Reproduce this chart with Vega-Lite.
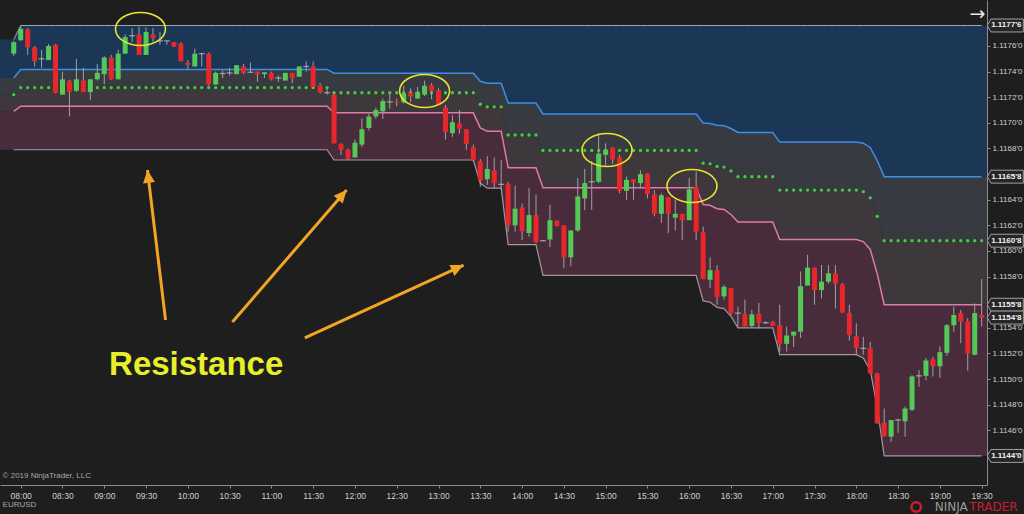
{
"$schema": "https://vega.github.io/schema/vega-lite/v6.json",
"width": 987, "height": 485,
"autosize": "none",
"padding": {"left": 0, "top": 0, "right": 37, "bottom": 29},
"background": "#1e1e1e",
"config": {"view": {"stroke": null}, "font": "Liberation Sans"},
"resolve": {"axis": {"x": "independent", "y": "independent"}},
"datasets": {
"lv": [
{"g":0,"u":1.11765,"b":1.11735,"m":1.11722,"p":1.11709,"lo":1.11679},
{"g":1,"u":1.11776,"b":1.117417,"m":1.117275,"p":1.11713,"lo":1.11679},
{"g":2,"u":1.11776,"b":1.117388,"m":1.117235,"p":1.117078,"lo":1.11671},
{"g":3,"u":1.11776,"b":1.117325,"m":1.117145,"p":1.116961,"lo":1.11653},
{"g":4,"u":1.11776,"b":1.11731,"m":1.117125,"p":1.116935,"lo":1.11649},
{"g":5,"u":1.11776,"b":1.117155,"m":1.116905,"p":1.116649,"lo":1.11605},
{"g":6,"u":1.11776,"b":1.11707,"m":1.116785,"p":1.116493,"lo":1.11581},
{"g":7,"u":1.11776,"b":1.116999,"m":1.116685,"p":1.116363,"lo":1.11561},
{"g":8,"u":1.11776,"b":1.116995,"m":1.11668,"p":1.116356,"lo":1.1156},
{"g":9,"u":1.11776,"b":1.116981,"m":1.11666,"p":1.11633,"lo":1.11556},
{"g":10,"u":1.11776,"b":1.116978,"m":1.116655,"p":1.116324,"lo":1.11555},
{"g":11,"u":1.11776,"b":1.116956,"m":1.116625,"p":1.116285,"lo":1.11549},
{"g":12,"u":1.11776,"b":1.116925,"m":1.11658,"p":1.116226,"lo":1.1154},
{"g":13,"u":1.11776,"b":1.11685,"m":1.116475,"p":1.11609,"lo":1.11519},
{"g":14,"u":1.11776,"b":1.116841,"m":1.116463,"p":1.116073,"lo":1.115165},
{"g":15,"u":1.11776,"b":1.116808,"m":1.116415,"p":1.116012,"lo":1.11507},
{"g":16,"u":1.11776,"b":1.116705,"m":1.11627,"p":1.115823,"lo":1.11478},
{"g":17,"u":1.11776,"b":1.11658,"m":1.11608,"p":1.11558,"lo":1.1144}
],
"bars": [
{"t":"07:45","g":0},
{"t":"07:50","g":0},
{"t":"07:55","g":0,"o":1.11754,"h":1.11764,"l":1.11752,"c":1.11763},
{"t":"08:00","g":1,"o":1.117645,"h":1.11776,"l":1.11764,"c":1.117735},
{"t":"08:05","g":1,"o":1.11773,"h":1.11774,"l":1.11753,"c":1.11759},
{"t":"08:10","g":1,"o":1.11759,"h":1.1176,"l":1.11744,"c":1.11748},
{"t":"08:15","g":1,"o":1.1175,"h":1.11757,"l":1.11743,"c":1.1175},
{"t":"08:20","g":1,"o":1.11749,"h":1.117615,"l":1.11749,"c":1.1176},
{"t":"08:25","g":1,"o":1.11761,"h":1.117615,"l":1.11723,"c":1.117235},
{"t":"08:30","g":1,"o":1.11722,"h":1.1174,"l":1.11722,"c":1.11734},
{"t":"08:35","g":1,"o":1.11733,"h":1.117335,"l":1.11705,"c":1.11724},
{"t":"08:40","g":1,"o":1.11725,"h":1.1175,"l":1.11724,"c":1.11734},
{"t":"08:45","g":1,"o":1.11733,"h":1.11743,"l":1.11724,"c":1.11724},
{"t":"08:50","g":1,"o":1.11724,"h":1.11734,"l":1.11718,"c":1.11734},
{"t":"08:55","g":1,"o":1.11734,"h":1.11746,"l":1.11733,"c":1.11739},
{"t":"09:00","g":1,"o":1.11738,"h":1.11752,"l":1.1173,"c":1.11751},
{"t":"09:05","g":1,"o":1.11751,"h":1.11753,"l":1.117335,"c":1.11734},
{"t":"09:10","g":1,"o":1.11734,"h":1.11757,"l":1.11734,"c":1.11754},
{"t":"09:15","g":1,"o":1.11754,"h":1.11769,"l":1.11754,"c":1.11767},
{"t":"09:20","g":1,"o":1.11768,"h":1.11774,"l":1.11763,"c":1.11768},
{"t":"09:25","g":1,"o":1.11769,"h":1.11775,"l":1.11753,"c":1.11753},
{"t":"09:30","g":1,"o":1.11753,"h":1.117745,"l":1.11753,"c":1.11771},
{"t":"09:35","g":1,"o":1.11769,"h":1.11774,"l":1.11763,"c":1.11766},
{"t":"09:40","g":1,"o":1.11764,"h":1.11771,"l":1.11761,"c":1.11764},
{"t":"09:45","g":1,"o":1.11764,"h":1.11764,"l":1.11761,"c":1.11764},
{"t":"09:50","g":1,"o":1.11763,"h":1.11763,"l":1.11759,"c":1.117595},
{"t":"09:55","g":1,"o":1.11762,"h":1.11763,"l":1.11748,"c":1.11748},
{"t":"10:00","g":1,"o":1.11747,"h":1.11749,"l":1.11742,"c":1.11745},
{"t":"10:05","g":1,"o":1.11744,"h":1.11758,"l":1.11744,"c":1.11754},
{"t":"10:10","g":1,"o":1.11754,"h":1.117545,"l":1.11744,"c":1.11754},
{"t":"10:15","g":1,"o":1.11754,"h":1.11755,"l":1.11729,"c":1.1173},
{"t":"10:20","g":1,"o":1.1173,"h":1.1174,"l":1.117295,"c":1.11739},
{"t":"10:25","g":1,"o":1.117385,"h":1.11741,"l":1.11735,"c":1.117385},
{"t":"10:30","g":1,"o":1.11739,"h":1.11743,"l":1.11737,"c":1.11739},
{"t":"10:35","g":1,"o":1.11738,"h":1.11745,"l":1.11738,"c":1.11745},
{"t":"10:40","g":1,"o":1.11744,"h":1.11746,"l":1.11738,"c":1.11739},
{"t":"10:45","g":1,"o":1.117395,"h":1.11747,"l":1.11739,"c":1.117395},
{"t":"10:50","g":1,"o":1.1174,"h":1.1174,"l":1.11732,"c":1.11738},
{"t":"10:55","g":1,"o":1.11738,"h":1.117395,"l":1.11735,"c":1.117395},
{"t":"11:00","g":1,"o":1.11739,"h":1.1174,"l":1.11733,"c":1.11734},
{"t":"11:05","g":1,"o":1.11735,"h":1.11737,"l":1.11732,"c":1.11735},
{"t":"11:10","g":1,"o":1.11733,"h":1.11739,"l":1.11733,"c":1.11739},
{"t":"11:15","g":1,"o":1.11739,"h":1.11739,"l":1.11731,"c":1.11735},
{"t":"11:20","g":1,"o":1.11736,"h":1.11744,"l":1.11736,"c":1.11744},
{"t":"11:25","g":1,"o":1.11744,"h":1.11748,"l":1.1174,"c":1.11744},
{"t":"11:30","g":1,"o":1.11744,"h":1.11748,"l":1.11728,"c":1.11728},
{"t":"11:35","g":1,"o":1.11729,"h":1.11731,"l":1.11723,"c":1.11724},
{"t":"11:40","g":1,"o":1.117235,"h":1.11727,"l":1.11722,"c":1.117235},
{"t":"11:45","g":2,"o":1.11722,"h":1.11724,"l":1.11684,"c":1.11684},
{"t":"11:50","g":2,"o":1.116835,"h":1.11684,"l":1.11675,"c":1.11679},
{"t":"11:55","g":2,"o":1.11679,"h":1.1168,"l":1.11671,"c":1.11672},
{"t":"12:00","g":2,"o":1.11673,"h":1.11687,"l":1.11673,"c":1.116845},
{"t":"12:05","g":2,"o":1.11683,"h":1.117035,"l":1.11681,"c":1.11695},
{"t":"12:10","g":2,"o":1.11696,"h":1.11707,"l":1.11694,"c":1.11705},
{"t":"12:15","g":2,"o":1.11705,"h":1.11712,"l":1.11703,"c":1.1171},
{"t":"12:20","g":2,"o":1.11709,"h":1.11719,"l":1.11703,"c":1.11717},
{"t":"12:25","g":2,"o":1.117163,"h":1.11723,"l":1.11711,"c":1.117163},
{"t":"12:30","g":2,"o":1.117165,"h":1.11719,"l":1.11713,"c":1.117155},
{"t":"12:35","g":2,"o":1.11716,"h":1.11729,"l":1.11715,"c":1.11723},
{"t":"12:40","g":2,"o":1.117235,"h":1.11727,"l":1.11716,"c":1.117205},
{"t":"12:45","g":2,"o":1.11719,"h":1.11728,"l":1.117185,"c":1.11724},
{"t":"12:50","g":2,"o":1.11722,"h":1.11733,"l":1.11721,"c":1.11729},
{"t":"12:55","g":2,"o":1.117295,"h":1.11731,"l":1.117185,"c":1.11725},
{"t":"13:00","g":2,"o":1.117255,"h":1.11727,"l":1.11714,"c":1.11714},
{"t":"13:05","g":2,"o":1.11712,"h":1.11714,"l":1.11687,"c":1.11693},
{"t":"13:10","g":2,"o":1.11692,"h":1.11706,"l":1.11689,"c":1.117005},
{"t":"13:15","g":2,"o":1.116995,"h":1.1171,"l":1.116915,"c":1.116955},
{"t":"13:20","g":2,"o":1.11695,"h":1.11695,"l":1.11679,"c":1.116835},
{"t":"13:25","g":2,"o":1.11681,"h":1.11683,"l":1.1167,"c":1.11671},
{"t":"13:30","g":3,"o":1.1167,"h":1.11672,"l":1.1165,"c":1.11655},
{"t":"13:35","g":4,"o":1.11656,"h":1.11674,"l":1.116515,"c":1.11664},
{"t":"13:40","g":4,"o":1.11663,"h":1.11673,"l":1.11649,"c":1.11653},
{"t":"13:45","g":4,"o":1.11652,"h":1.11671,"l":1.11648,"c":1.11652},
{"t":"13:50","g":5,"o":1.11652,"h":1.11654,"l":1.11615,"c":1.1162},
{"t":"13:55","g":5,"o":1.1162,"h":1.11651,"l":1.11615,"c":1.11633},
{"t":"14:00","g":5,"o":1.11634,"h":1.11637,"l":1.116085,"c":1.116155},
{"t":"14:05","g":5,"o":1.11614,"h":1.11649,"l":1.11611,"c":1.11628},
{"t":"14:10","g":5,"o":1.11628,"h":1.11644,"l":1.11606,"c":1.11607},
{"t":"14:15","g":6,"o":1.11608,"h":1.116085,"l":1.116075,"c":1.11608},
{"t":"14:20","g":6,"o":1.11609,"h":1.11636,"l":1.11603,"c":1.11624},
{"t":"14:25","g":6,"o":1.116235,"h":1.11624,"l":1.11619,"c":1.116195},
{"t":"14:30","g":6,"o":1.1162,"h":1.1162,"l":1.115865,"c":1.11595},
{"t":"14:35","g":6,"o":1.11595,"h":1.11616,"l":1.11588,"c":1.11616},
{"t":"14:40","g":6,"o":1.11616,"h":1.11657,"l":1.11615,"c":1.116425},
{"t":"14:45","g":6,"o":1.11641,"h":1.11664,"l":1.11632,"c":1.11653},
{"t":"14:50","g":6,"o":1.11654,"h":1.1167,"l":1.11632,"c":1.11654},
{"t":"14:55","g":6,"o":1.11654,"h":1.11692,"l":1.11653,"c":1.11676},
{"t":"15:00","g":6,"o":1.11675,"h":1.11684,"l":1.11666,"c":1.11679},
{"t":"15:05","g":6,"o":1.116805,"h":1.11681,"l":1.11668,"c":1.116715},
{"t":"15:10","g":6,"o":1.11673,"h":1.11675,"l":1.11645,"c":1.11647},
{"t":"15:15","g":6,"o":1.11647,"h":1.11658,"l":1.1164,"c":1.116555},
{"t":"15:20","g":6,"o":1.11656,"h":1.11656,"l":1.1164,"c":1.116535},
{"t":"15:25","g":6,"o":1.11653,"h":1.11663,"l":1.1165,"c":1.1166},
{"t":"15:30","g":6,"o":1.116605,"h":1.116605,"l":1.11641,"c":1.116445},
{"t":"15:35","g":6,"o":1.11644,"h":1.116475,"l":1.11627,"c":1.11629},
{"t":"15:40","g":6,"o":1.11629,"h":1.11645,"l":1.11622,"c":1.116435},
{"t":"15:45","g":6,"o":1.11642,"h":1.11642,"l":1.11614,"c":1.11629},
{"t":"15:50","g":6,"o":1.11626,"h":1.1164,"l":1.11616,"c":1.11629},
{"t":"15:55","g":6,"o":1.11629,"h":1.11629,"l":1.116085,"c":1.11624},
{"t":"16:00","g":6,"o":1.11624,"h":1.11657,"l":1.11624,"c":1.11648},
{"t":"16:05","g":6,"o":1.1165,"h":1.11662,"l":1.116085,"c":1.11615},
{"t":"16:10","g":7,"o":1.116145,"h":1.11619,"l":1.11578,"c":1.11578},
{"t":"16:15","g":8,"o":1.115775,"h":1.11595,"l":1.11571,"c":1.11585},
{"t":"16:20","g":9,"o":1.11585,"h":1.11589,"l":1.11558,"c":1.11564},
{"t":"16:25","g":10,"o":1.115645,"h":1.115735,"l":1.11562,"c":1.11572},
{"t":"16:30","g":11,"o":1.11571,"h":1.11571,"l":1.1155,"c":1.115515},
{"t":"16:35","g":12,"o":1.115515,"h":1.115565,"l":1.11541,"c":1.115515},
{"t":"16:40","g":12,"o":1.11551,"h":1.11562,"l":1.11541,"c":1.11541},
{"t":"16:45","g":12,"o":1.115415,"h":1.11554,"l":1.1154,"c":1.115505},
{"t":"16:50","g":12,"o":1.11551,"h":1.115595,"l":1.115395,"c":1.11544},
{"t":"16:55","g":12,"o":1.11544,"h":1.11545,"l":1.11543,"c":1.11544},
{"t":"17:00","g":12,"o":1.115445,"h":1.115455,"l":1.115415,"c":1.115415},
{"t":"17:05","g":13,"o":1.11542,"h":1.11558,"l":1.115215,"c":1.115275},
{"t":"17:10","g":13,"o":1.115275,"h":1.11541,"l":1.115215,"c":1.11534},
{"t":"17:15","g":13,"o":1.11534,"h":1.11537,"l":1.11525,"c":1.11537},
{"t":"17:20","g":13,"o":1.11537,"h":1.11584,"l":1.11532,"c":1.115725},
{"t":"17:25","g":13,"o":1.11573,"h":1.11597,"l":1.11573,"c":1.11587},
{"t":"17:30","g":13,"o":1.11587,"h":1.11587,"l":1.11558,"c":1.115695},
{"t":"17:35","g":13,"o":1.115695,"h":1.11589,"l":1.11563,"c":1.11576},
{"t":"17:40","g":13,"o":1.11576,"h":1.11589,"l":1.115745,"c":1.115825},
{"t":"17:45","g":13,"o":1.115825,"h":1.11589,"l":1.11555,"c":1.115745},
{"t":"17:50","g":13,"o":1.11574,"h":1.11575,"l":1.115515,"c":1.11552},
{"t":"17:55","g":13,"o":1.115515,"h":1.11558,"l":1.1153,"c":1.115345},
{"t":"18:00","g":13,"o":1.115335,"h":1.115435,"l":1.11519,"c":1.11524},
{"t":"18:05","g":14,"o":1.11524,"h":1.11533,"l":1.11519,"c":1.11524},
{"t":"18:10","g":15,"o":1.11524,"h":1.11529,"l":1.11504,"c":1.115045},
{"t":"18:15","g":16,"o":1.115045,"h":1.11505,"l":1.11465,"c":1.114655},
{"t":"18:20","g":17,"o":1.11466,"h":1.11477,"l":1.11455,"c":1.114555},
{"t":"18:25","g":17,"o":1.11455,"h":1.11468,"l":1.11451,"c":1.11468},
{"t":"18:30","g":17,"o":1.11468,"h":1.11469,"l":1.11458,"c":1.11468},
{"t":"18:35","g":17,"o":1.11467,"h":1.114785,"l":1.11455,"c":1.11477},
{"t":"18:40","g":17,"o":1.11476,"h":1.11503,"l":1.11475,"c":1.11502},
{"t":"18:45","g":17,"o":1.115025,"h":1.11507,"l":1.11494,"c":1.115025},
{"t":"18:50","g":17,"o":1.115025,"h":1.115165,"l":1.11499,"c":1.115145},
{"t":"18:55","g":17,"o":1.115155,"h":1.115175,"l":1.11502,"c":1.1151},
{"t":"19:00","g":17,"o":1.1151,"h":1.115255,"l":1.11501,"c":1.11521},
{"t":"19:05","g":17,"o":1.115205,"h":1.11543,"l":1.11518,"c":1.11542},
{"t":"19:10","g":17,"o":1.11542,"h":1.115565,"l":1.11537,"c":1.1155},
{"t":"19:15","g":17,"o":1.115515,"h":1.11554,"l":1.11528,"c":1.11545},
{"t":"19:20","g":17,"o":1.11545,"h":1.115475,"l":1.115065,"c":1.1152},
{"t":"19:25","g":17,"o":1.11519,"h":1.11559,"l":1.115185,"c":1.115515},
{"t":"19:30","g":17,"o":1.1155,"h":1.11578,"l":1.11541,"c":1.11548},
{"t":"19:35","g":17}
],
"tags": [
{"t":"19:47","v":1.11776,"s":"1.1177'6"},
{"t":"19:47","v":1.11658,"s":"1.1165'8"},
{"t":"19:47","v":1.11608,"s":"1.1160'8"},
{"t":"19:47","v":1.11558,"s":"1.1155'8"},
{"t":"19:47","v":1.11548,"s":"1.1154'8"},
{"t":"19:47","v":1.1144,"s":"1.1144'0"}
]
},
"layer": [
{"data": {"name": "bars", "format": {"parse": {"t": "date:'%H:%M'"}}},
 "transform": [{"lookup": "g", "from": {"data": {"name": "lv"}, "key": "g", "fields": ["u","b","m","p","lo"]}}],
 "resolve": {"axis": {"x": "independent", "y": "independent"}},
 "layer": [
  {"mark": {"type": "area", "color": "#1c3655", "clip": true},
   "encoding": {
    "x": {"field": "t", "type": "temporal",
      "scale": {"domain": [{"year":1900,"month":1,"date":1,"hours":7,"minutes":45,"seconds":8},{"year":1900,"month":1,"date":1,"hours":19,"minutes":33,"seconds":50}], "padding": 0},
      "axis": {"format": "%H:%M", "tickCount": 24, "title": null, "grid": false,
        "domainColor": "#8c8c8c", "tickColor": "#8c8c8c", "tickSize": 3, "labelColor": "#d0d0d0", "labelFontSize": 8.5,
        "labelPadding": 3, "labelFlush": false, "labelOverlap": false}},
    "y": {"field": "u", "type": "quantitative", "scale": {"domain": [1.114173, 1.117959], "nice": false, "zero": false, "padding": 0},
     "axis": {"orient": "right", "title": null, "grid": false, "values": [1.1146,1.1148,1.115,1.1152,1.1154,1.1158,1.116,1.1162,1.1164,1.1168,1.117,1.1172,1.1174,1.1176],
       "labelExpr": "substring(format(datum.value,'.5f'),0,6) + \"'\" + substring(format(datum.value,'.5f'),6,7)",
       "domainColor": "#8c8c8c", "tickColor": "#8c8c8c", "tickSize": 3, "labelColor": "#d0d0d0", "labelFontSize": 8, "labelPadding": 2}},
    "y2": {"field": "b"}}},
  {"mark": {"type": "area", "color": "#383a41", "clip": true},
   "encoding": {"x": {"field": "t", "type": "temporal", "axis": null}, "y": {"field": "b", "type": "quantitative", "axis": null}, "y2": {"field": "m"}}},
  {"mark": {"type": "area", "color": "#3e383d", "clip": true},
   "encoding": {"x": {"field": "t", "type": "temporal", "axis": null}, "y": {"field": "m", "type": "quantitative", "axis": null}, "y2": {"field": "p"}}},
  {"mark": {"type": "area", "color": "#482c3c", "clip": true},
   "encoding": {"x": {"field": "t", "type": "temporal", "axis": null}, "y": {"field": "p", "type": "quantitative", "axis": null}, "y2": {"field": "lo"}}},
  {"transform": [{"filter": "isValid(datum.o)"}],
   "mark": {"type": "line", "color": "#a3aab3", "strokeWidth": 1},
   "encoding": {"x": {"field": "t", "type": "temporal", "axis": null}, "y": {"field": "u", "type": "quantitative", "axis": null}}},
  {"transform": [{"filter": "isValid(datum.o)"}],
   "mark": {"type": "line", "color": "#3b8fe6", "strokeWidth": 1.5},
   "encoding": {"x": {"field": "t", "type": "temporal", "axis": null}, "y": {"field": "b", "type": "quantitative", "axis": null}}},
  {"transform": [{"filter": "isValid(datum.o)"}],
   "mark": {"type": "line", "color": "#e07aa8", "strokeWidth": 1.5},
   "encoding": {"x": {"field": "t", "type": "temporal", "axis": null}, "y": {"field": "p", "type": "quantitative", "axis": null}}},
  {"transform": [{"filter": "isValid(datum.o)"}],
   "mark": {"type": "line", "color": "#a8959f", "strokeWidth": 1.2},
   "encoding": {"x": {"field": "t", "type": "temporal", "axis": null}, "y": {"field": "lo", "type": "quantitative", "axis": null}}},
  {"transform": [{"filter": "isValid(datum.o)"}],
   "mark": {"type": "point", "filled": true, "color": "#3ed03e", "size": 11, "opacity": 1},
   "encoding": {"x": {"field": "t", "type": "temporal", "axis": null}, "y": {"field": "m", "type": "quantitative", "axis": null}}},
  {"transform": [{"filter": "isValid(datum.o)"}],
   "mark": {"type": "rule", "color": "#a0a0a0", "strokeWidth": 1},
   "encoding": {"x": {"field": "t", "type": "temporal", "axis": null}, "y": {"field": "l", "type": "quantitative", "axis": null}, "y2": {"field": "h"}}},
  {"transform": [{"filter": "isValid(datum.o) && datum.o != datum.c"}],
   "mark": {"type": "bar", "width": 5},
   "encoding": {"x": {"field": "t", "type": "temporal", "axis": null}, "y": {"field": "o", "type": "quantitative", "axis": null}, "y2": {"field": "c"},
     "color": {"condition": {"test": "datum.c > datum.o", "value": "#55c957"}, "value": "#e8272b"}}},
  {"transform": [{"filter": "isValid(datum.o) && datum.o == datum.c"}],
   "mark": {"type": "tick", "color": "#c8c8c8", "size": 6, "thickness": 1.2, "orient": "horizontal"},
   "encoding": {"x": {"field": "t", "type": "temporal", "axis": null}, "y": {"field": "o", "type": "quantitative", "axis": null}}}
 ]},
{"data": {"values": [{"t":"09:26","v":1.117733},{"t":"12:50","v":1.117249},{"t":"15:01","v":1.116788},{"t":"16:02","v":1.116507}], "format": {"parse": {"t": "date:'%H:%M'"}}},
 "mark": {"type": "point", "shape": "M -1 0 A 1 0.66 0 1 1 1 0 A 1 0.66 0 1 1 -1 0 Z", "size": 2500, "filled": false, "stroke": "#e6e62e", "strokeWidth": 1.6, "opacity": 1},
 "encoding": {"x": {"field": "t", "type": "temporal", "axis": null}, "y": {"field": "v", "type": "quantitative", "axis": null}}},
{"data": {"values": [{"t":"09:44","v":1.115461,"t2":"09:31","v2":1.116632},{"t":"10:32","v":1.115445,"t2":"11:54","v2":1.116476},{"t":"11:24","v":1.115321,"t2":"13:18","v2":1.11589}], "format": {"parse": {"t": "date:'%H:%M'", "t2": "date:'%H:%M'"}}},
 "mark": {"type": "rule", "color": "#f2a524", "strokeWidth": 3},
 "encoding": {"x": {"field": "t", "type": "temporal", "axis": null}, "y": {"field": "v", "type": "quantitative", "axis": null}, "x2": {"field": "t2"}, "y2": {"field": "v2"}}},
{"data": {"values": [{"t":"09:31","v":1.116632}], "format": {"parse": {"t": "date:'%H:%M'"}}},
 "mark": {"type": "point", "shape": "M 0 0 L 0.75 1.6 L -0.75 1.6 Z", "size": 256, "filled": true, "color": "#f2a524", "opacity": 1, "angle": -7},
 "encoding": {"x": {"field": "t", "type": "temporal", "axis": null}, "y": {"field": "v", "type": "quantitative", "axis": null}}},
{"data": {"values": [{"t":"11:54","v":1.116476}], "format": {"parse": {"t": "date:'%H:%M'"}}},
 "mark": {"type": "point", "shape": "M 0 0 L 0.75 1.6 L -0.75 1.6 Z", "size": 256, "filled": true, "color": "#f2a524", "opacity": 1, "angle": 41},
 "encoding": {"x": {"field": "t", "type": "temporal", "axis": null}, "y": {"field": "v", "type": "quantitative", "axis": null}}},
{"data": {"values": [{"t":"13:18","v":1.11589}], "format": {"parse": {"t": "date:'%H:%M'"}}},
 "mark": {"type": "point", "shape": "M 0 0 L 0.75 1.6 L -0.75 1.6 Z", "size": 256, "filled": true, "color": "#f2a524", "opacity": 1, "angle": 65},
 "encoding": {"x": {"field": "t", "type": "temporal", "axis": null}, "y": {"field": "v", "type": "quantitative", "axis": null}}},
{"data": {"values": [{"t":"10:06","v":1.11511,"s":"Resistance"}], "format": {"parse": {"t": "date:'%H:%M'"}}},
 "mark": {"type": "text", "font": "Liberation Sans", "fontWeight": "bold", "fontSize": 33, "color": "#e6ef2a", "align": "center", "baseline": "middle"},
 "encoding": {"x": {"field": "t", "type": "temporal", "axis": null}, "y": {"field": "v", "type": "quantitative", "axis": null}, "text": {"field": "s"}}},
{"data": {"values": [{"t":"07:47","v":1.114243,"s":"© 2019 NinjaTrader, LLC"},{"t":"07:47","v":1.114017,"s":"EURUSD"}], "format": {"parse": {"t": "date:'%H:%M'"}}},
 "mark": {"type": "text", "fontSize": 8, "color": "#a8a8a8", "align": "left", "baseline": "middle"},
 "encoding": {"x": {"field": "t", "type": "temporal", "axis": null}, "y": {"field": "v", "type": "quantitative", "axis": null}, "text": {"field": "s"}}},
{"data": {"values": [{"t":"19:27","v":1.11785,"s":"→"}], "format": {"parse": {"t": "date:'%H:%M'"}}},
 "mark": {"type": "text", "fontSize": 19, "font": "DejaVu Sans", "color": "#e8e8e8", "align": "center", "baseline": "middle"},
 "encoding": {"x": {"field": "t", "type": "temporal", "axis": null}, "y": {"field": "v", "type": "quantitative", "axis": null}, "text": {"field": "s"}}},
{"data": {"values": [{"t":"19:20","v":1.114001,"s":"NINJA"}], "format": {"parse": {"t": "date:'%H:%M'"}}},
 "mark": {"type": "text", "fontSize": 12, "font": "DejaVu Sans", "color": "#9a9a9a", "align": "right", "baseline": "middle"},
 "encoding": {"x": {"field": "t", "type": "temporal", "axis": null}, "y": {"field": "v", "type": "quantitative", "axis": null}, "text": {"field": "s"}}},
{"data": {"values": [{"t":"19:21","v":1.114001,"s":"TRADER"}], "format": {"parse": {"t": "date:'%H:%M'"}}},
 "mark": {"type": "text", "fontSize": 12, "font": "DejaVu Sans", "color": "#c8202a", "align": "left", "baseline": "middle"},
 "encoding": {"x": {"field": "t", "type": "temporal", "axis": null}, "y": {"field": "v", "type": "quantitative", "axis": null}, "text": {"field": "s"}}},
{"data": {"values": [{"t":"18:43","v":1.114001}], "format": {"parse": {"t": "date:'%H:%M'"}}},
 "mark": {"type": "point", "shape": "circle", "size": 90, "filled": false, "stroke": "#c8202a", "strokeWidth": 2.5, "opacity": 1},
 "encoding": {"x": {"field": "t", "type": "temporal", "axis": null}, "y": {"field": "v", "type": "quantitative", "axis": null}}},
{"data": {"name": "tags", "format": {"parse": {"t": "date:'%H:%M'"}}},
 "resolve": {"axis": {"x": "independent", "y": "independent"}},
 "layer": [
  {"mark": {"type": "point", "shape": "M -1 0 L -0.8 -0.36 L 1 -0.36 L 1 0.36 L -0.8 0.36 Z", "size": 1296, "filled": true, "fill": "#262626", "stroke": "#a0a0a0", "strokeWidth": 1, "opacity": 1},
   "encoding": {"x": {"field": "t", "type": "temporal", "axis": null}, "y": {"field": "v", "type": "quantitative", "axis": null}}},
  {"mark": {"type": "text", "fontSize": 8, "fontWeight": "bold", "color": "#f2f2f2", "align": "center", "baseline": "middle", "dx": 1},
   "encoding": {"x": {"field": "t", "type": "temporal", "axis": null}, "y": {"field": "v", "type": "quantitative", "axis": null}, "text": {"field": "s"}}}
 ]}
]
}
